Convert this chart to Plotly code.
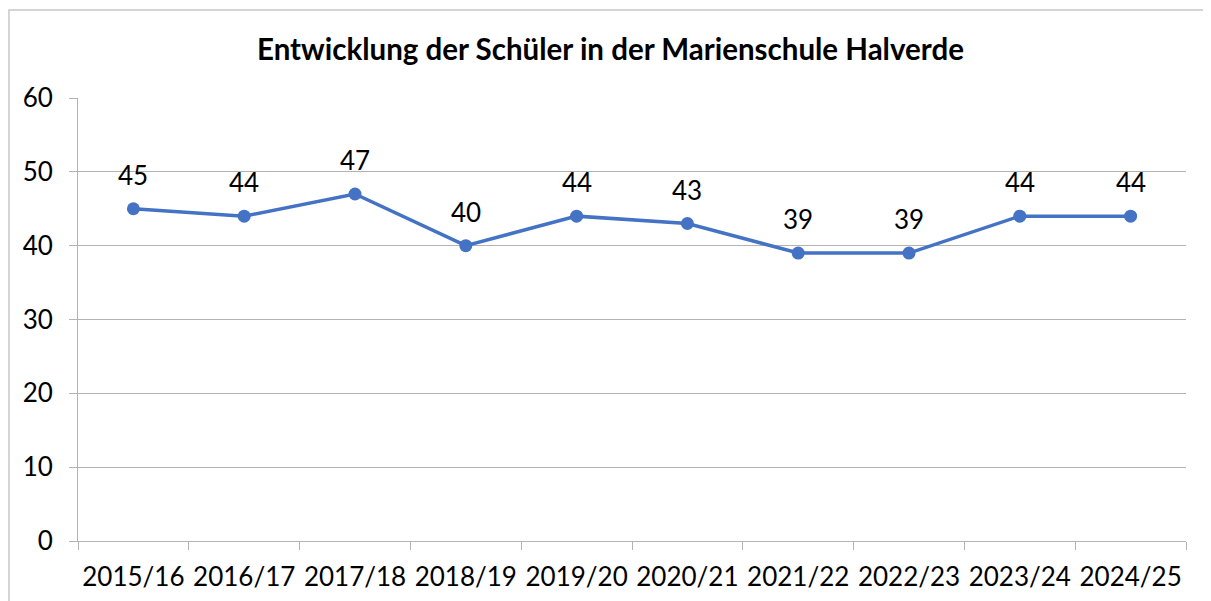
import plotly.graph_objects as go

years = ["2015/16", "2016/17", "2017/18", "2018/19", "2019/20",
         "2020/21", "2021/22", "2022/23", "2023/24", "2024/25"]
students = [45, 44, 47, 40, 44, 43, 39, 39, 44, 44]

grey = "#B3B3B3"
blue = "#4472C4"

fig = go.Figure()
fig.add_trace(
    go.Scatter(
        x=years,
        y=students,
        mode="lines+markers",
        line=dict(color=blue, width=3.5),
        marker=dict(color=blue, size=13),
        showlegend=False,
        hoverinfo="skip",
    )
)

# data labels sit a fixed distance above each point, like Excel's
for yr, v in zip(years, students):
    fig.add_annotation(
        x=yr, y=v, text=str(v), showarrow=False,
        yshift=34, yanchor="middle",
        font=dict(family="Lato", size=26, color="black"),
    )

# the page has an 8px body margin, so margins are shifted by 8
fig.update_layout(
    width=1211,
    height=601,
    paper_bgcolor="white",
    plot_bgcolor="white",
    margin=dict(l=70, r=33, t=90, b=68),
    font=dict(family="Lato", size=26, color="black"),
    title=dict(
        text="<b>Entwicklung der Schüler in der Marienschule Halverde</b>",
        x=0.4975,
        xanchor="center",
        y=0.930,
        yanchor="middle",
        font=dict(family="Lato", size=29.5, color="black"),
    ),
    xaxis=dict(
        type="category",
        range=[-0.5, 9.5],
        tickson="boundaries",
        ticks="outside",
        ticklen=8,
        tickcolor=grey,
        tickangle=0,
        ticklabelstandoff=13,
        automargin=False,
        showgrid=False,
        showline=True,
        linecolor=grey,
        linewidth=1,
        tickfont=dict(family="Lato", size=26, color="black"),
    ),
    yaxis=dict(
        range=[0, 60],
        dtick=10,
        ticks="outside",
        ticklen=8,
        tickcolor=grey,
        ticklabelstandoff=11,
        automargin=False,
        showgrid=True,
        gridcolor=grey,
        showline=True,
        linecolor=grey,
        zeroline=False,
        tickfont=dict(family="Lato", size=26, color="black"),
    ),
    shapes=[
        dict(
            type="rect",
            xref="paper",
            yref="paper",
            x0=-0.0623,
            x1=1.1,
            y0=-0.3,
            y1=1.1986,
            line=dict(color="#C8C8C8", width=1.5),
            fillcolor="rgba(0,0,0,0)",
            layer="below",
        )
    ],
)

fig.write_html("out.html")
